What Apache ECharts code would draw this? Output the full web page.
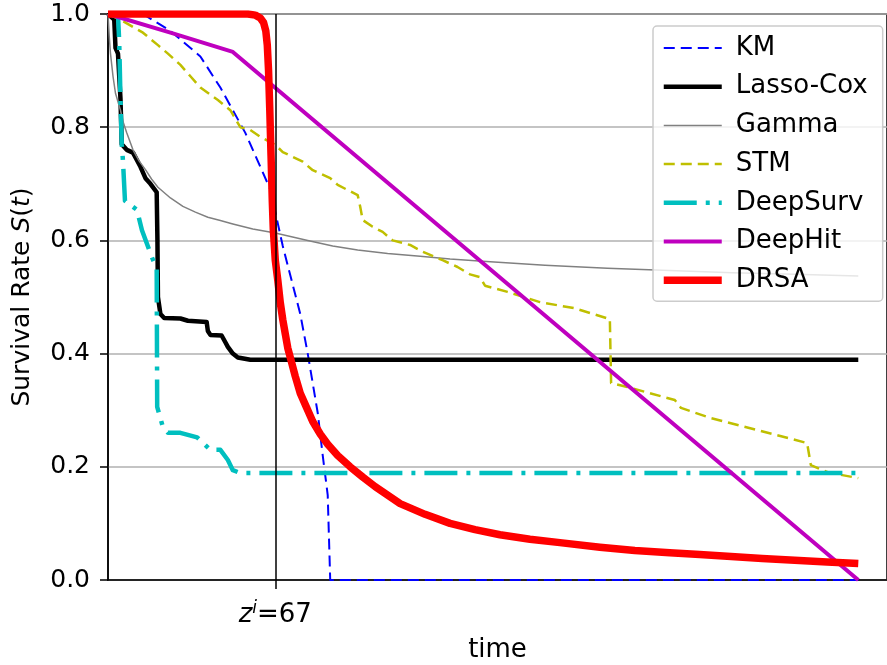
<!DOCTYPE html>
<html>
<head>
<meta charset="utf-8">
<script src="https://cdn.jsdelivr.net/npm/echarts@6/dist/echarts.min.js"></script>
<style>
  html, body { margin: 0; padding: 0; background: #fff; }
  #main { width: 887px; height: 665px; }
</style>
</head>
<body>
<div id="main"></div>
<script>
// ---- data: [time, S(t)] ----
const kmData = [[0,1],[14,1],[25,0.97],[37,0.925],[45,0.87],[50,0.83],[55,0.79],[60,0.74],[65,0.69],[70,0.59],
  [77,0.47],[80,0.40],[84,0.295],[86,0.22],[88,0.15],[89,0.0],[300.5,0.0]];

const lassoData = [[0,1],[2.5,0.99],[3,0.94],[4,0.93],[5,0.85],[5.5,0.77],[7.5,0.76],[10,0.755],[13,0.73],[15,0.71],
  [17,0.70],[19.5,0.685],[19.8,0.60],[20,0.50],[21,0.47],[22.5,0.463],[29,0.462],[32,0.458],[39.5,0.456],[40,0.44],
  [41,0.433],[45.5,0.432],[47,0.42],[48,0.412],[50,0.40],[52,0.393],[57,0.389],[300.5,0.389]];

const gammaData = [[0,1],[0.5,0.96],[1,0.93],[1.5,0.91],[2,0.89],[3,0.86],[4,0.845],[5,0.83],[6,0.81],[7.5,0.79],
  [10,0.76],[12.5,0.74],[15,0.725],[17.5,0.708],[20,0.694],[25,0.675],[30,0.66],[35,0.65],[40,0.641],[45,0.635],
  [50,0.629],[58,0.62],[67,0.613],[80,0.60],[90,0.59],[100,0.583],[112,0.577],[125,0.572],[137,0.567],[150,0.563],
  [175,0.556],[200,0.551],[225,0.547],[250,0.543],[275,0.54],[300.5,0.537]];

const stmData = [[0,1],[5,0.99],[14,0.967],[20,0.945],[24,0.93],[29,0.91],[33,0.89],[37,0.87],[44,0.848],[49,0.83],
  [53,0.80],[57,0.795],[61,0.783],[67,0.769],[70,0.756],[78,0.739],[82,0.724],[89,0.71],[92,0.698],[96,0.689],
  [100,0.68],[101,0.66],[102,0.636],[106,0.624],[110,0.615],[114,0.60],[121,0.592],[126,0.58],[134,0.565],[140,0.553],
  [145,0.54],[149,0.535],[151,0.52],[160,0.509],[173,0.491],[187,0.48],[201,0.461],[201.5,0.348],[208,0.341],
  [227,0.318],[229.5,0.304],[241.5,0.286],[280,0.242],[281.5,0.203],[288.5,0.19],[300.5,0.18]];

const deepSurvData = [[0,1],[4,1],[4.5,0.95],[5,0.85],[5.5,0.77],[6,0.74],[6.8,0.67],[11.6,0.654],[13.6,0.618],
  [17.6,0.57],[19.5,0.55],[19.7,0.306],[22,0.27],[24,0.26],[29,0.26],[35.7,0.252],[41,0.23],[45,0.23],[48,0.212],
  [50,0.194],[53,0.189],[300.5,0.189]];

const deepHitData = [[0,1],[25,0.967],[50,0.933],[300.5,0.0]];

const drsaData = [[0,1],[56,1],[59,0.998],[61,0.993],[62.3,0.985],[63.2,0.97],[63.8,0.945],[64.3,0.9],[64.8,0.83],
  [65.3,0.75],[65.8,0.67],[66.2,0.62],[66.5,0.6],[67,0.565],[68,0.53],[69,0.49],[70,0.46],[71,0.435],[72,0.41],
  [73.5,0.385],[75,0.36],[77,0.33],[79.5,0.305],[82,0.28],[85,0.258],[88,0.24],[92,0.22],[97,0.2],[102,0.182],
  [107,0.165],[112,0.15],[117,0.135],[127,0.116],[137,0.10],[147,0.089],[157,0.08],[169,0.072],[181,0.066],
  [197,0.058],[211,0.052],[225,0.048],[237,0.045],[248,0.042],[262,0.038],[275,0.035],[288,0.032],[300.5,0.029]];

const zTime = 67;
const legendNames = ['KM', 'Lasso-Cox', 'Gamma', 'STM', 'DeepSurv', 'DeepHit', 'DRSA'];

const FONT = 'DejaVu Sans';

function line(name, data, color, width, type) {
    return {
        name: name,
        type: 'line',
        data: data,
        symbol: 'none',
        smooth: false,
        animation: false,
        lineStyle: { color: color, width: width, type: type || 'solid', cap: 'butt', join: 'round' },
        itemStyle: { color: color }
    };
}

const chart = echarts.init(document.getElementById('main'));

const series = [
    line('KM', kmData, '#0000ff', 2, [11, 6]),
    line('Lasso-Cox', lassoData, '#000000', 4.5),
    line('Gamma', gammaData, '#808080', 1.5),
    line('STM', stmData, '#bfbf00', 2.5, [11, 6]),
    line('DeepSurv', deepSurvData, '#00bfbf', 4.5, [33, 9, 4, 9]),
    line('DeepHit', deepHitData, '#bf00bf', 4),
    line('DRSA', drsaData, '#ff0000', 7.5)
];

// vertical marker at z^i
series[0].markLine = {
    silent: true,
    symbol: 'none',
    animation: false,
    label: { show: false },
    lineStyle: { color: '#000', width: 1.5, type: 'solid' },
    data: [{ xAxis: zTime }]
};

chart.setOption({
    backgroundColor: '#fff',
    animation: false,
    textStyle: { fontFamily: FONT },
    grid: {
        left: 108, right: 0, top: 14, bottom: 85,
        outerBoundsMode: 'none',
        containLabel: false,
        show: true, borderColor: '#000', borderWidth: 1.5, backgroundColor: 'transparent'
    },
    legend: {
        orient: 'vertical',
        left: 653, top: 26,
        padding: [9, 15, 8, 7],
        itemWidth: 58, itemHeight: 14, itemGap: 12.7,
        backgroundColor: 'rgba(255,255,255,0.8)',
        borderColor: '#cccccc', borderWidth: 1.5, borderRadius: 4,
        itemStyle: { color: 'transparent', borderWidth: 0, opacity: 0 },
        lineStyle: { width: 'inherit', type: 'inherit' },
        textStyle: { fontFamily: FONT, fontSize: 26, color: '#000', lineHeight: 26, padding: [0, 0, 0, 9] },
        data: legendNames
    },
    xAxis: {
        type: 'value',
        min: 0, max: 312,
        name: 'time',
        nameLocation: 'middle',
        nameGap: 57,
        nameTextStyle: { fontFamily: FONT, fontSize: 26, color: '#000' },
        axisLine: { lineStyle: { color: '#000', width: 1.5 } },
        axisTick: { show: true, inside: false, length: 9, lineStyle: { color: '#000', width: 1.5 }, customValues: [zTime] },
        axisLabel: {
            customValues: [zTime],
            margin: 20,
            formatter: function (v) { return '{z|z}{s|i}{n|=' + v + '}'; },
            rich: {
                z: { fontFamily: FONT, fontSize: 26, fontStyle: 'italic', color: '#000', lineHeight: 28, verticalAlign: 'bottom' },
                s: { fontFamily: FONT, fontSize: 17, fontStyle: 'italic', color: '#000', lineHeight: 28, verticalAlign: 'top' },
                n: { fontFamily: FONT, fontSize: 26, color: '#000', lineHeight: 28, verticalAlign: 'bottom' }
            }
        },
        splitLine: { show: false }
    },
    yAxis: {
        type: 'value',
        min: 0, max: 1, interval: 0.2,
        name: '{a|Survival Rate }{b|S}{a|(}{b|t}{a|)}',
        nameLocation: 'middle',
        nameGap: 73,
        nameRotate: 90,
        nameTextStyle: {
            rich: {
                a: { fontFamily: FONT, fontSize: 25, color: '#000' },
                b: { fontFamily: FONT, fontSize: 25, color: '#000', fontStyle: 'italic' }
            }
        },
        axisLine: { show: true, lineStyle: { color: '#000', width: 1.5 } },
        axisTick: { show: true, inside: false, length: 8, lineStyle: { color: '#000', width: 1.5 } },
        axisLabel: {
            margin: 18,
            fontFamily: FONT, fontSize: 25, color: '#000',
            formatter: function (v) { return v.toFixed(1); }
        },
        splitLine: { show: true, lineStyle: { color: '#b0b0b0', width: 1.5 } }
    },
    series: series
});
</script>
</body>
</html>
